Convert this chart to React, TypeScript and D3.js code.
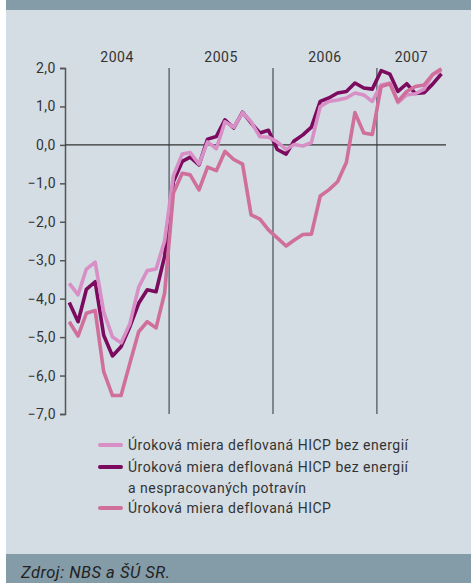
import { useEffect, useRef } from "react";
import * as d3 from "d3";

// monthly values, Jan 2004 - Aug 2007
const bezEnergii = [
  -3.6, -3.9, -3.23, -3.05, -4.35, -5.0, -5.15, -4.65, -3.7, -3.27, -3.23, -2.5,
  -0.8, -0.24, -0.2, -0.5, 0.08, -0.1, 0.6, 0.46, 0.84, 0.6, 0.21, 0.2,
  0.08, -0.12, 0.01, -0.03, 0.06, 1.0, 1.13, 1.17, 1.22, 1.35, 1.3, 1.13,
  1.56, 1.61, 1.1, 1.3, 1.33, 1.45, 1.83, 1.93,
];
const bezEnergiiPotravin = [
  -4.1, -4.6, -3.76, -3.56, -4.95, -5.49, -5.25, -4.73, -4.12, -3.77, -3.82, -2.9,
  -0.95, -0.43, -0.32, -0.52, 0.15, 0.22, 0.65, 0.44, 0.85, 0.57, 0.31, 0.38,
  -0.12, -0.24, 0.1, 0.26, 0.46, 1.13, 1.22, 1.35, 1.39, 1.61, 1.48, 1.45,
  1.93, 1.84, 1.39, 1.59, 1.34, 1.36, 1.58, 1.85,
];
const hicp = [
  -4.6, -4.97, -4.38, -4.31, -5.9, -6.52, -6.52, -5.68, -4.86, -4.6, -4.76, -3.86,
  -1.25, -0.74, -0.78, -1.17, -0.58, -0.67, -0.17, -0.38, -0.5, -1.82, -1.93, -2.21,
  -2.42, -2.63, -2.48, -2.33, -2.32, -1.33, -1.17, -0.96, -0.45, 0.84, 0.31, 0.27,
  1.52, 1.59, 1.13, 1.39, 1.52, 1.56, 1.83, 1.98,
];

const years = [2004, 2005, 2006, 2007];
const yTicks = [2, 1, 0, -1, -2, -3, -4, -5, -6, -7];

const series = [
  { name: "Úroková miera deflovaná HICP bez energií", values: bezEnergii, color: "#d78fc6" },
  {
    name: "Úroková miera deflovaná HICP bez energií",
    name2: "a nespracovaných potravín",
    values: bezEnergiiPotravin,
    color: "#7c0b60",
  },
  { name: "Úroková miera deflovaná HICP", values: hicp, color: "#d06f9c" },
];

const W = 471,
  H = 583;
const FONT = "Roboto, 'Open Sans', sans-serif";
const FS = 14;
const LS = 0.5;

const App = () => {
  const ref = useRef<SVGSVGElement>(null);

  useEffect(() => {
    const svg = d3.select(ref.current);
    svg.selectAll("*").remove();

    // panel + bars
    svg.append("rect").attr("width", W).attr("height", H).attr("fill", "#ffffff");
    svg.append("rect").attr("x", 6).attr("y", 0).attr("width", W - 6).attr("height", H).attr("fill", "#d3dde3");
    svg.append("rect").attr("x", 6).attr("y", 0).attr("width", W - 6).attr("height", 10).attr("fill", "#849ba8");
    svg.append("rect").attr("x", 6).attr("y", 554).attr("width", W - 6).attr("height", H - 554).attr("fill", "#849ba8");
    svg
      .append("text")
      .attr("x", 21)
      .attr("y", 578)
      .attr("font-family", FONT)
      .attr("font-style", "italic")
      .attr("font-size", 16.5)
      .attr("letter-spacing", LS)
      .attr("fill", "#222")
      .text("Zdroj: NBS a ŠÚ SR.");

    const x = d3
      .scaleTime()
      .domain([new Date(2004, 0, 1), new Date(2007, 8, 1)])
      .range([65, 446]);
    const y = d3.scaleLinear().domain([-7, 2]).range([414, 68]);
    const date = (i) => new Date(2004, i, 16);

    // y axis
    const yAxis = svg
      .append("g")
      .attr("transform", "translate(65,0)")
      .call(
        d3
          .axisLeft(y)
          .tickValues(yTicks)
          .tickSize(5)
          .tickPadding(4)
          .tickFormat((d) => d3.format(".1f")(d).replace(".", ","))
      );
    yAxis.select(".domain").attr("stroke", "#555").attr("stroke-width", 1.5);
    yAxis.selectAll(".tick line").attr("stroke", "#555").attr("stroke-width", 1.5);
    yAxis
      .selectAll(".tick text")
      .attr("font-family", FONT)
      .attr("font-size", FS)
      .attr("letter-spacing", LS)
      .attr("fill", "#333");

    // year separators
    svg
      .append("g")
      .selectAll("line")
      .data(years.slice(1))
      .enter()
      .append("line")
      .attr("x1", (d) => x(new Date(d, 0, 1)))
      .attr("x2", (d) => x(new Date(d, 0, 1)))
      .attr("y1", y(2))
      .attr("y2", y(-7))
      .attr("stroke", "#6b7278")
      .attr("stroke-width", 1.6);

    // year labels
    svg
      .append("g")
      .selectAll("text")
      .data(years)
      .enter()
      .append("text")
      .attr("x", (d) => {
        const a = x(new Date(d, 0, 1));
        const b = Math.min(x(new Date(d + 1, 0, 1)), x.range()[1]);
        return (a + b) / 2;
      })
      .attr("y", 62)
      .attr("text-anchor", "middle")
      .attr("font-family", FONT)
      .attr("font-size", FS)
      .attr("letter-spacing", LS)
      .attr("fill", "#333")
      .text((d) => d);

    // zero line
    svg
      .append("line")
      .attr("x1", 65)
      .attr("x2", 446)
      .attr("y1", y(0))
      .attr("y2", y(0))
      .attr("stroke", "#333")
      .attr("stroke-width", 1.2);

    const line = d3
      .line<number>()
      .x((d, i) => x(date(i)))
      .y((d) => y(d))
      .curve(d3.curveLinear);

    // dark first, then light, then HICP on top
    [series[1], series[0], series[2]].forEach((s) => {
      svg
        .append("path")
        .datum(s.values)
        .attr("d", line)
        .attr("fill", "none")
        .attr("stroke", s.color)
        .attr("stroke-width", 3.6)
        .attr("stroke-linejoin", "round");
    });

    // legend
    const rows = [
      { s: series[0], cy: 445 },
      { s: series[1], cy: 467 },
      { s: series[2], cy: 508 },
    ];
    const lg = svg.append("g");
    rows.forEach((r) => {
      lg.append("line")
        .attr("x1", 100)
        .attr("x2", 121)
        .attr("y1", r.cy)
        .attr("y2", r.cy)
        .attr("stroke", r.s.color)
        .attr("stroke-width", 4)
        .attr("stroke-linecap", "round");
      lg.append("text")
        .attr("x", 128)
        .attr("y", r.cy + 5)
        .attr("font-family", FONT)
        .attr("font-size", FS)
        .attr("letter-spacing", LS)
        .attr("fill", "#333")
        .text(r.s.name);
      if (r.s.name2) {
        lg.append("text")
          .attr("x", 128)
          .attr("y", r.cy + 26)
          .attr("font-family", FONT)
          .attr("font-size", FS)
          .attr("letter-spacing", LS)
          .attr("fill", "#333")
          .text(r.s.name2);
      }
    });
  }, []);

  return (
    <div style={{ position: "absolute", left: 0, top: 0 }}>
      <svg ref={ref} width={W} height={H} style={{ display: "block" }} />
    </div>
  );
};

export default App;
